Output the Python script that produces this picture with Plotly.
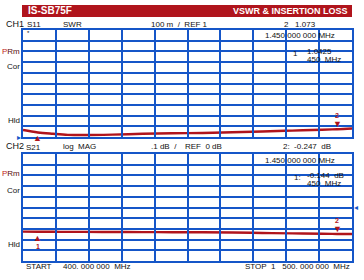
import plotly.graph_objects as go

# ---- data ----
freq_mhz = [400, 450, 500, 550, 600, 700, 800, 900, 1000, 1100, 1200, 1300, 1400, 1450, 1500]
swr_s11 = [1.065, 1.0425, 1.03, 1.02, 1.018, 1.022, 1.03, 1.035, 1.038, 1.045, 1.052, 1.06, 1.068, 1.073, 1.08]
mag_s21 = [-0.225, -0.226, -0.227, -0.228, -0.228, -0.229, -0.23, -0.231, -0.232, -0.234, -0.238, -0.242, -0.245, -0.247, -0.248]
marker_freqs = [450, 1450]
marker_labels = ["1", "2"]
marker_swr = [1.0425, 1.073]
marker_s21 = [-0.226, -0.247]
x_ticks = [400, 510, 620, 730, 840, 950, 1060, 1170, 1280, 1390, 1500]
swr_ticks = [1.0, 1.1, 1.2, 1.3, 1.4, 1.5, 1.6, 1.7, 1.8, 1.9, 2.0]
db_ticks = [-0.5, -0.4, -0.3, -0.2, -0.1, 0.0, 0.1, 0.2, 0.3, 0.4, 0.5]

W, H = 364, 280
RED = "#b0141c"
BLUE = "#1556c8"
FONT = "Liberation Sans Narrow, Arial Narrow, Liberation Sans, sans-serif"

def px(x):
    return x / W

def py(y):
    return 1 - y / H

fig = go.Figure()

fig.add_trace(go.Scatter(x=freq_mhz, y=swr_s11, mode="lines", line=dict(color=RED, width=2.4, shape="spline"),
                         xaxis="x", yaxis="y", showlegend=False, hoverinfo="skip"))
fig.add_trace(go.Scatter(x=freq_mhz, y=mag_s21, mode="lines", line=dict(color=RED, width=2.4, shape="spline"),
                         xaxis="x2", yaxis="y2", showlegend=False, hoverinfo="skip"))

xdom = [px(23), px(352)]
PLOT_H = 107  # pixel height of each channel grid

def xaxis_def(anchor):
    return dict(domain=xdom, range=[400, 1500], tickmode="array", tickvals=x_ticks, anchor=anchor,
                showgrid=True, gridcolor=BLUE, gridwidth=1.7, zeroline=False, showticklabels=False,
                ticks="inside", ticklen=PLOT_H, tickwidth=1.7, tickcolor=BLUE,
                showline=True, linecolor=BLUE, linewidth=1.8, mirror=True, fixedrange=True)

def yaxis_def(anchor, dom, rng, vals):
    return dict(domain=dom, range=rng, tickmode="array", tickvals=vals, anchor=anchor,
                showgrid=True, gridcolor=BLUE, gridwidth=1.7, zeroline=False, showticklabels=False,
                ticks="", showline=True, linecolor=BLUE, linewidth=1.8, mirror=True, fixedrange=True)

fig.update_layout(
    template="none",
    width=W, height=H, margin=dict(l=0, r=0, t=0, b=0),
    paper_bgcolor="white", plot_bgcolor="rgba(0,0,0,0)",
    xaxis=xaxis_def("y"),
    yaxis=yaxis_def("x", [py(137), py(30)], [1.0, 2.0], swr_ticks),
    xaxis2=xaxis_def("y2"),
    yaxis2=yaxis_def("x2", [py(261), py(154)], [-0.5, 0.5], db_ticks),
    font=dict(family=FONT, size=8, color="black"),
)

# header bar
fig.add_shape(type="rect", xref="paper", yref="paper", x0=px(22), x1=px(352), y0=py(17), y1=py(5),
              fillcolor=RED, line=dict(width=0), layer="above")

ann = []

def txt(x, y, s, anchor="left", size=8, color="#111111", bold=False):
    t = f"<b>{s}</b>" if bold else s
    ann.append(dict(xref="paper", yref="paper", x=px(x), y=py(y), text=t, showarrow=False,
                    xanchor=anchor, yanchor="middle", font=dict(family=FONT, size=size, color=color)))

txt(26, 11, "IS-SB75F", size=10, color="white", bold=True)
txt(350, 11, "VSWR &amp; INSERTION LOSS", anchor="right", size=9, color="white", bold=True)

# CH1 header
txt(4, 24, "CH1", size=9)
txt(25, 24, "S11")
txt(61, 24, "SWR")
txt(149, 24, "100 m&nbsp;&nbsp;/&nbsp;&nbsp;REF 1")
txt(282, 24, "2&nbsp;&nbsp;&nbsp;1.073")
txt(25, 33, "*", size=6)
# CH1 readout
txt(337, 35, "1.450 000 000 MHz", anchor="right")
txt(291, 53, "1")
txt(305, 51, "1.0425")
txt(305, 59, "450&nbsp;&nbsp;MHz")
# CH1 side labels
ann.append(dict(xref="paper", yref="paper", x=px(22), y=py(51), text="<span style='color:#c01818'>P</span>Rm",
                showarrow=False, xanchor="right", yanchor="middle", font=dict(family=FONT, size=8, color="#5a0a0a")))
txt(22, 66, "Cor", anchor="right")
txt(22, 120, "Hld", anchor="right")

# CH2 header
txt(4, 146, "CH2", size=9)
txt(24, 147, "S21")
txt(61, 146, "log&nbsp;&nbsp;MAG")
txt(149, 146, ".1 dB&nbsp;&nbsp;/")
txt(183, 146, "REF&nbsp;&nbsp;0 dB")
txt(281, 146, "2:&nbsp;&nbsp;-0.247&nbsp;&nbsp;dB")
# CH2 readout
txt(337, 160, "1.450 000 000 MHz", anchor="right")
txt(292, 177, "1:")
txt(305, 175, "-0.144&nbsp;&nbsp;dB")
txt(305, 183, "450&nbsp;&nbsp;MHz")
ann.append(dict(xref="paper", yref="paper", x=px(22), y=py(173), text="<span style='color:#c01818'>P</span>Rm",
                showarrow=False, xanchor="right", yanchor="middle", font=dict(family=FONT, size=8, color="#5a0a0a")))
txt(22, 190, "Cor", anchor="right")
txt(22, 244, "Hld", anchor="right")

# footer
txt(24, 266, "START")
txt(61, 266, "400. 000 000&nbsp;&nbsp;MHz")
txt(352, 266, "STOP&nbsp;&nbsp;1&nbsp;&nbsp;&nbsp;500. 000 000&nbsp;&nbsp;MHz", anchor="right")

# reference position indicators
txt(23, 137, "▸", anchor="right", size=8, color=BLUE)
txt(352, 207, "◂", anchor="left", size=8, color=BLUE)

# trace markers
for ch, (xa, ya, vals) in enumerate([("x", "y", marker_swr), ("x2", "y2", marker_s21)]):
    for f, v, lab in zip(marker_freqs, vals, marker_labels):
        if lab == "1":
            ann.append(dict(xref=xa, yref=ya, x=f, y=v, text="▲", showarrow=False, xanchor="center",
                            yanchor="top", yshift=1, font=dict(size=9, color=RED)))
            if ch == 1:
                ann.append(dict(xref=xa, yref=ya, x=f, y=v, text="<b>1</b>", showarrow=False, xanchor="center",
                                yanchor="top", yshift=-9, font=dict(family=FONT, size=7, color=RED)))
        else:
            ann.append(dict(xref=xa, yref=ya, x=f, y=v, text="▼", showarrow=False, xanchor="center",
                            yanchor="bottom", yshift=-2, font=dict(size=9, color=RED)))
            ann.append(dict(xref=xa, yref=ya, x=f, y=v, text="<b>2</b>", showarrow=False, xanchor="center",
                            yanchor="bottom", yshift=8, font=dict(family=FONT, size=7, color=RED)))

fig.update_layout(annotations=ann)
fig.write_html("out.html")
